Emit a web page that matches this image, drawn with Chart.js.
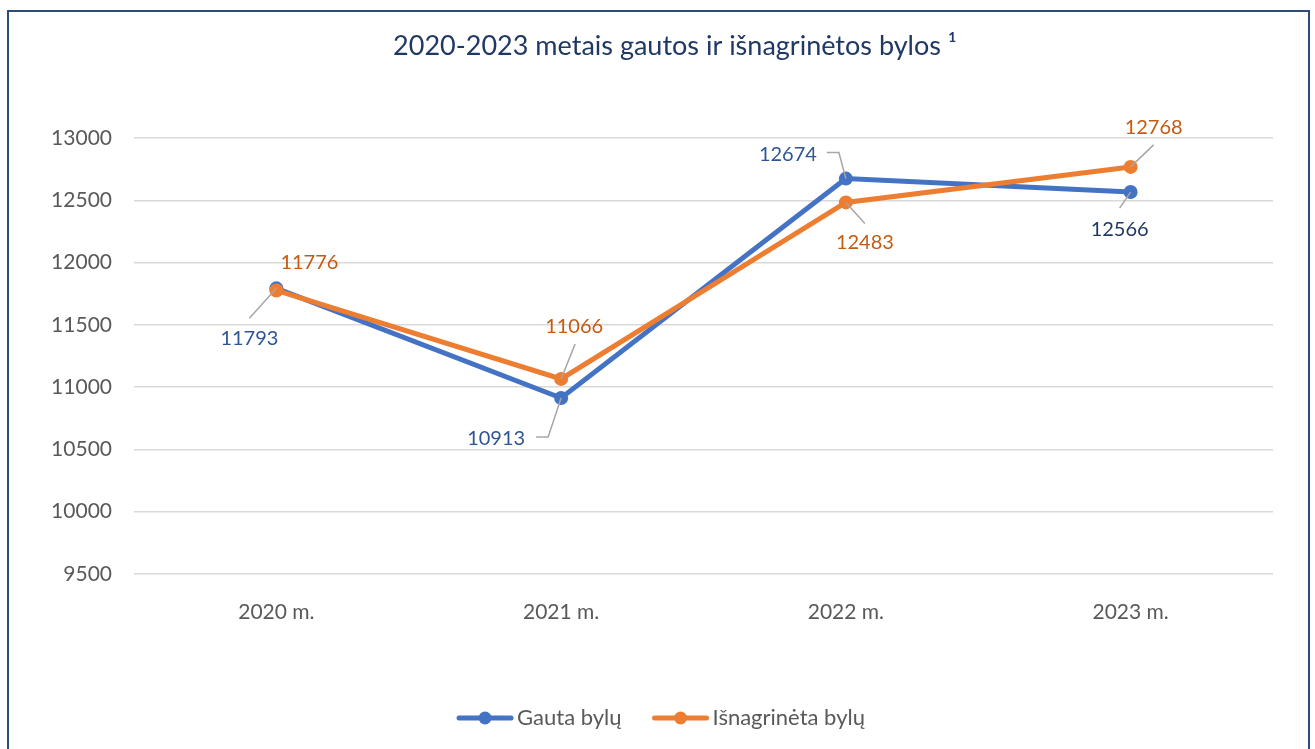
<!DOCTYPE html>
<html>
<head>
<meta charset="utf-8">
<script src="https://cdn.jsdelivr.net/npm/chart.js@4"></script>
<style>
  html, body { margin: 0; padding: 0; background: #fff; overflow: hidden; }
  #wrap { position: relative; width: 1315px; height: 749px; }
  #frame {
    position: absolute; left: 7px; top: 10px; width: 1303px; height: 800px;
    box-sizing: border-box; border: 2px solid #2F4B7C; pointer-events: none;
  }
  canvas { position: absolute; left: 0; top: 0; }
</style>
</head>
<body>
<div id="wrap">
  <canvas id="chart" width="1315" height="749"></canvas>
  <div id="frame"></div>
</div>
<script>
const categories = ["2020 m.", "2021 m.", "2022 m.", "2023 m."];
const gautaBylu = [11793, 10913, 12674, 12566];
const isnagrinetaBylu = [11776, 11066, 12483, 12768];
const yMin = 9500;
const yMax = 13000;
const yStep = 500;

const BLUE = "#4472C4";
const ORANGE = "#ED7D31";
const FONT = "Lato, 'Open Sans', sans-serif";
const TITLE = "2020-2023 metais gautos ir išnagrinėtos bylos ¹";

// title drawn by hand, it sits a bit right of the plot centre
const titlePlugin = {
  id: "titleText",
  afterDraw(chart, args, opts) {
    const ctx = chart.ctx;
    ctx.save();
    ctx.font = opts.size + "px " + FONT;
    ctx.fillStyle = opts.color;
    ctx.textAlign = "center";
    ctx.textBaseline = "middle";
    ctx.fillText(opts.text, opts.x, opts.y);
    ctx.restore();
  }
};

// legend: line with a dot, then the series name
const legendPlugin = {
  id: "lineLegend",
  afterDraw(chart, args, opts) {
    const ctx = chart.ctx;
    const ds = chart.data.datasets;
    ctx.save();
    ctx.font = opts.size + "px " + FONT;
    const widths = ds.map((d) => opts.lineLen + opts.textGap + ctx.measureText(d.label).width);
    const total = widths.reduce((a, b) => a + b, 0) + opts.itemGap * (ds.length - 1);
    let x = opts.cx - total / 2;
    const y = opts.y;
    ds.forEach((d, i) => {
      ctx.strokeStyle = d.borderColor;
      ctx.lineWidth = 5;
      ctx.lineCap = "round";
      ctx.beginPath();
      ctx.moveTo(x + 2, y);
      ctx.lineTo(x + opts.lineLen - 2, y);
      ctx.stroke();
      ctx.fillStyle = d.borderColor;
      ctx.beginPath();
      ctx.arc(x + opts.lineLen / 2, y, 6.5, 0, Math.PI * 2);
      ctx.fill();
      ctx.fillStyle = opts.color;
      ctx.textAlign = "left";
      ctx.textBaseline = "middle";
      ctx.fillText(d.label, x + opts.lineLen + opts.textGap, y);
      x += widths[i] + opts.itemGap;
    });
    ctx.restore();
  }
};

// value labels with grey leader lines, placed relative to each point
const leaderLabels = {
  id: "leaderLabels",
  afterDatasetsDraw(chart, args, opts) {
    const ctx = chart.ctx;
    ctx.save();
    chart.data.datasets.forEach((ds, di) => {
      const meta = chart.getDatasetMeta(di);
      const layout = opts.layout[di];
      meta.data.forEach((pt, i) => {
        const l = layout[i];
        if (l.path) {
          ctx.strokeStyle = "#A6A6A6";
          ctx.lineWidth = 1.5;
          ctx.beginPath();
          ctx.moveTo(pt.x, pt.y);
          l.path.forEach((p) => ctx.lineTo(pt.x + p[0], pt.y + p[1]));
          ctx.stroke();
        }
        ctx.fillStyle = l.color || opts.colors[di];
        ctx.font = "20px " + FONT;
        ctx.textAlign = "center";
        ctx.textBaseline = "middle";
        ctx.fillText(String(ds.data[i]), pt.x + l.dx, pt.y + l.dy);
      });
    });
    ctx.restore();
  }
};

new Chart(document.getElementById("chart"), {
  type: "line",
  data: {
    labels: categories,
    datasets: [
      {
        label: "Gauta bylų",
        data: gautaBylu,
        borderColor: BLUE,
        backgroundColor: BLUE,
        borderWidth: 5,
        pointRadius: 7,
        pointBorderWidth: 0,
        tension: 0,
        order: 1
      },
      {
        label: "Išnagrinėta bylų",
        data: isnagrinetaBylu,
        borderColor: ORANGE,
        backgroundColor: ORANGE,
        borderWidth: 5,
        pointRadius: 7,
        pointBorderWidth: 0,
        tension: 0,
        order: 0
      }
    ]
  },
  options: {
    responsive: false,
    animation: false,
    layout: { padding: { left: 0, right: 42, top: 138, bottom: 70 } },
    scales: {
      x: {
        offset: true,
        grid: { display: false },
        border: { display: false },
        ticks: { color: "#595959", font: { family: FONT, size: 21 }, padding: 18 },
        afterFit(scale) { scale.height = 105; }
      },
      y: {
        min: yMin,
        max: yMax,
        grid: { color: "#D9D9D9", lineWidth: 1.5, drawTicks: false },
        border: { display: false },
        ticks: {
          stepSize: yStep,
          color: "#595959",
          font: { family: FONT, size: 21 },
          padding: 22,
          callback: (v) => String(v)
        },
        afterFit(scale) { scale.width = 134; }
      }
    },
    plugins: {
      title: { display: false },
      legend: { display: false },
      tooltip: { enabled: false },
      titleText: { text: TITLE, size: 27, color: "#203864", x: 675, y: 46 },
      lineLegend: { cx: 661, y: 718, size: 22, color: "#595959", lineLen: 56, textGap: 4, itemGap: 31 },
      leaderLabels: {
        colors: ["#2F5597", "#C55A11"],
        layout: [
          [
            { dx: -27, dy: 50, path: [[-27, 30]] },
            { dx: -65, dy: 41, path: [[-13, 39], [-25, 39]] },
            { dx: -58, dy: -24, path: [[-7, -26], [-19, -26]] },
            { dx: -11, dy: 37, path: [[-11, 16]], color: "#203864" }
          ],
          [
            { dx: 33, dy: -28 },
            { dx: 13, dy: -52, path: [[14, -35]] },
            { dx: 19, dy: 40, path: [[19, 21]] },
            { dx: 23, dy: -39, path: [[23, -22]] }
          ]
        ]
      }
    }
  },
  plugins: [leaderLabels, titlePlugin, legendPlugin]
});
</script>
</body>
</html>
